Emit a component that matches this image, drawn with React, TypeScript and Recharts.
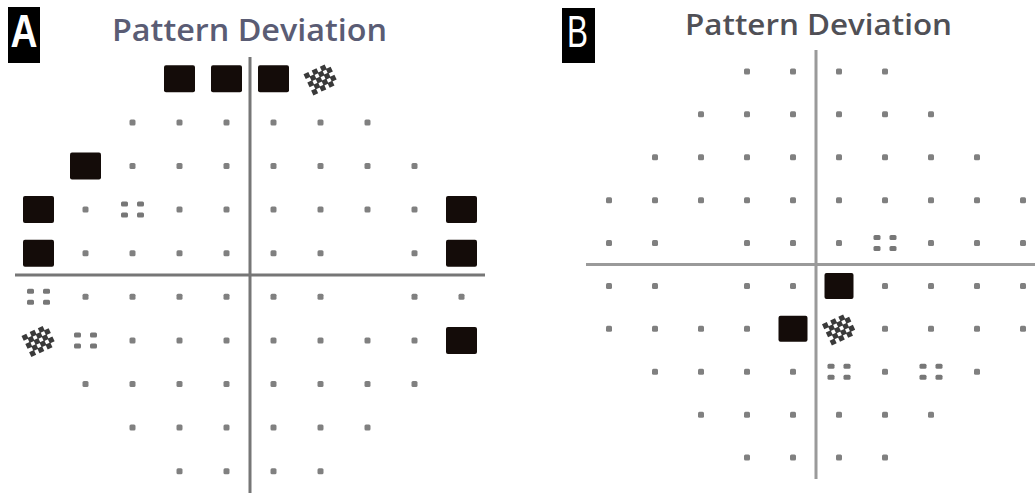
import React from 'react';
import { ScatterChart, Scatter, XAxis, YAxis, ReferenceLine } from 'recharts';

// Symbol codes: '.' normal, ':' P<5%, '#' P<1%, 'B' P<0.5%, ' ' no test point
const PANEL_A_ROWS = [
  '   BBB#   ',
  '  ......  ',
  ' B....... ',
  'B.:......B',
  'B...... .B',
  ':...... ..',
  '#:.......B',
  ' ........ ',
  '  ......  ',
  '   ....   ',
];

const PANEL_B_ROWS = [
  '   ....   ',
  '  ......  ',
  ' ........ ',
  '..........',
  '.. ...:...',
  '.. ..B....',
  '....B#....',
  ' ....:.:. ',
  '  ......  ',
  '   ....   ',
];

const PANEL_TITLES = ['Pattern Deviation', 'Pattern Deviation'];
const PANEL_LABELS = ['A', 'B'];

type Pt = { x: number; y: number; s: string };

const toPoints = (rows: string[]): Pt[] => {
  const out: Pt[] = [];
  rows.forEach((row, r) =>
    row.split('').forEach((ch, c) => {
      if (ch !== ' ') out.push({ x: c - 4.5, y: 4.5 - r, s: ch });
    })
  );
  return out;
};

const makeShape = (sqW: number, sqH: number) => (props: any) => {
  const { cx, cy, payload } = props;
  if (cx == null || cy == null || !payload) return <g />;
  const s = payload.s;
  if (s === '.') {
    return <rect x={cx - 3} y={cy - 3} width={6} height={6} rx={1.5} fill="#808080" />;
  }
  if (s === ':') {
    const offs = [[-8, -5.5], [8, -5.5], [-8, 5.5], [8, 5.5]];
    return (
      <g fill="#777">
        {offs.map(([dx, dy], i) => (
          <rect key={i} x={cx + dx - 3.5} y={cy + dy - 2.5} width={7} height={5} rx={1.5} />
        ))}
      </g>
    );
  }
  if (s === 'B') {
    return (
      <rect x={cx - sqW / 2} y={cy - sqH / 2} width={sqW} height={sqH} rx={2} fill="#140c09" />
    );
  }
  if (s === '#') {
    const cells = [];
    const cw = 4.5;
    const nx = 6;
    const ny = 5;
    for (let i = 0; i < nx; i++) {
      for (let j = 0; j < ny; j++) {
        if ((i + j) % 2 === 0) {
          cells.push(
            <rect
              key={`${i}-${j}`}
              x={cx - (nx * cw) / 2 + i * cw}
              y={cy - (ny * cw) / 2 + j * cw}
              width={cw + 0.8}
              height={cw + 0.8}
            />
          );
        }
      }
    }
    return (
      <g fill="#3a3a3a" transform={`rotate(-25 ${cx} ${cy})`}>
        {cells}
      </g>
    );
  }
  return <g />;
};

type PanelProps = {
  left: number;
  top: number;
  width: number;
  height: number;
  rows: string[];
  lineColor: string;
  sqW: number;
  sqH: number;
};

const Panel = ({ left, top, width, height, rows, lineColor, sqW, sqH }: PanelProps) => {
  const data = toPoints(rows);
  return (
    <div style={{ position: 'absolute', left, top }}>
      <ScatterChart width={width} height={height} margin={{ top: 0, right: 0, bottom: 0, left: 0 }}>
        <XAxis type="number" dataKey="x" domain={[-5, 5]} hide allowDataOverflow />
        <YAxis type="number" dataKey="y" domain={[-5, 5]} hide allowDataOverflow />
        <ReferenceLine x={0} stroke={lineColor} strokeWidth={3} />
        <ReferenceLine y={0} stroke={lineColor} strokeWidth={3} />
        <Scatter data={data} shape={makeShape(sqW, sqH)} isAnimationActive={false} />
      </ScatterChart>
    </div>
  );
};

export default function App() {
  return (
    <div
      style={{
        position: 'absolute',
        left: 0,
        top: 0,
        width: 1035,
        height: 496,
        overflow: 'hidden',
        background: '#ffffff',
      }}
    >
      <Panel left={15} top={57} width={470} height={436} rows={PANEL_A_ROWS} lineColor="#767676" sqW={31} sqH={27} />
      <Panel left={585.5} top={49.5} width={460} height={429} rows={PANEL_B_ROWS} lineColor="#9a9a9a" sqW={29} sqH={26} />
      <svg
        width={1035}
        height={496}
        style={{ position: 'absolute', left: 0, top: 0, pointerEvents: 'none' }}
      >
        <rect x={8} y={7} width={32} height={56} fill="#000" />
        <text
          x={10.5}
          y={47}
          fontFamily="Liberation Sans, Arial, sans-serif"
          fontSize={46}
          fontWeight={700}
          fill="#fff"
          textLength={27}
          lengthAdjust="spacingAndGlyphs"
        >
          {PANEL_LABELS[0]}
        </text>
        <rect x={562} y={8} width={33} height={55} fill="#000" />
        <text
          x={567}
          y={47}
          fontFamily="Liberation Sans, Arial, sans-serif"
          fontSize={44}
          fill="#fff"
          textLength={21}
          lengthAdjust="spacingAndGlyphs"
        >
          {PANEL_LABELS[1]}
        </text>
        <text
          x={112}
          y={41}
          fontFamily="Open Sans, DejaVu Sans, sans-serif"
          fontSize={30}
          fontWeight={600}
          fill="#5a5c74"
          textLength={275}
          lengthAdjust="spacingAndGlyphs"
        >
          {PANEL_TITLES[0]}
        </text>
        <text
          x={685}
          y={35}
          fontFamily="Open Sans, DejaVu Sans, sans-serif"
          fontSize={29}
          fontWeight={600}
          fill="#505056"
          textLength={267}
          lengthAdjust="spacingAndGlyphs"
        >
          {PANEL_TITLES[1]}
        </text>
      </svg>
    </div>
  );
}
